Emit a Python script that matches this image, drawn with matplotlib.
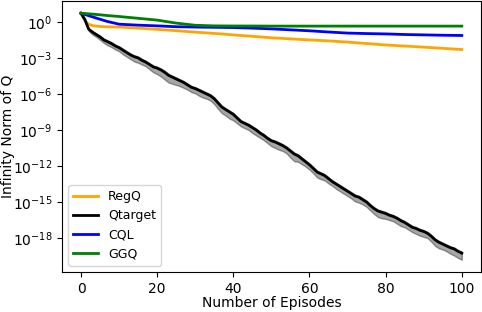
import numpy as np
import matplotlib
matplotlib.use("Agg")
import matplotlib.pyplot as plt

# episodes for the smooth curves (sparse) and for Qtarget (every episode)
ep_sparse = [0, 1, 2, 3, 4, 5, 7, 10, 15, 20, 25, 30, 35, 40, 45, 50, 55, 60, 65, 70, 75, 80, 85, 90, 95, 100]
ep_full = list(range(101))

# log10 of infinity norm
regq_log = [0.72, 0.1, -0.2, -0.3, -0.35, -0.38, -0.41, -0.43, -0.52, -0.62, -0.73, -0.85, -0.96, -1.08,
            -1.2, -1.32, -1.41, -1.5, -1.58, -1.68, -1.8, -1.92, -2.01, -2.1, -2.2, -2.3]
cql_log = [0.72, 0.62, 0.52, 0.42, 0.32, 0.22, 0.03, -0.19, -0.27, -0.33, -0.4, -0.43, -0.45, -0.47,
           -0.52, -0.58, -0.66, -0.74, -0.84, -0.93, -0.97, -1.0, -1.05, -1.08, -1.11, -1.13]
ggq_log = [0.72, 0.7, 0.67, 0.65, 0.62, 0.59, 0.53, 0.45, 0.3, 0.15, -0.1, -0.28, -0.33, -0.34,
           -0.34, -0.35, -0.35, -0.35, -0.35, -0.35, -0.35, -0.35, -0.35, -0.35, -0.35, -0.35]

qt_log = [0.72, 0.2, -0.6, -0.85, -1.05, -1.25, -1.5, -1.65, -1.8, -2.0,
          -2.15, -2.35, -2.55, -2.75, -2.9, -3.0, -3.2, -3.35, -3.55, -3.75,
          -3.85, -4.0, -4.2, -4.45, -4.6, -4.75, -4.9, -5.05, -5.25, -5.45,
          -5.55, -5.7, -5.85, -6.0, -6.15, -6.4, -6.75, -7.1, -7.3, -7.5,
          -7.7, -8.0, -8.3, -8.45, -8.6, -8.8, -9.0, -9.25, -9.45, -9.7,
          -9.9, -10.0, -10.15, -10.3, -10.5, -10.75, -11.0, -11.15, -11.4, -11.65,
          -11.9, -12.2, -12.5, -12.65, -12.8, -13.05, -13.3, -13.5, -13.7, -13.9,
          -14.1, -14.3, -14.5, -14.6, -14.8, -15.0, -15.3, -15.55, -15.75, -15.85,
          -15.95, -16.1, -16.2, -16.35, -16.55, -16.7, -16.9, -17.1, -17.2, -17.35,
          -17.45, -17.6, -17.85, -18.15, -18.35, -18.5, -18.65, -18.8, -18.9, -19.1,
          -19.25]
# spread of the shaded band below / above the Qtarget mean (decades)
qt_below = [0.0, 0.1, 0.15, 0.2, 0.2, 0.25, 0.25, 0.3, 0.3, 0.3,
            0.3, 0.35, 0.35, 0.35, 0.4, 0.4, 0.35, 0.35, 0.4, 0.45,
            0.5, 0.55, 0.6, 0.6, 0.55, 0.5, 0.45, 0.45, 0.4, 0.4,
            0.4, 0.45, 0.45, 0.4, 0.4, 0.45, 0.5, 0.5, 0.5, 0.55,
            0.5, 0.45, 0.4, 0.4, 0.4, 0.45, 0.45, 0.4, 0.4, 0.4,
            0.45, 0.5, 0.5, 0.45, 0.45, 0.55, 0.6, 0.5, 0.45, 0.4,
            0.4, 0.4, 0.45, 0.45, 0.4, 0.4, 0.35, 0.4, 0.4, 0.4,
            0.4, 0.4, 0.45, 0.45, 0.4, 0.4, 0.4, 0.45, 0.5, 0.5,
            0.45, 0.4, 0.4, 0.45, 0.45, 0.4, 0.4, 0.4, 0.45, 0.45,
            0.45, 0.4, 0.45, 0.5, 0.5, 0.45, 0.45, 0.5, 0.55, 0.55,
            0.55]
qt_above = [0.0, 0.05, 0.05, 0.08, 0.08, 0.1, 0.1, 0.1, 0.1, 0.1] + [0.12] * 91

qt = 10 ** np.array(qt_log)
qt_lo = 10 ** (np.array(qt_log) - np.array(qt_below))
qt_hi = 10 ** (np.array(qt_log) + np.array(qt_above))

plt.rcParams['font.size'] = 10

fig = plt.figure(figsize=(4.82, 3.12), dpi=100)
ax = fig.add_axes([0.1286, 0.128, 0.869, 0.869])

ax.plot(ep_sparse, 10 ** np.array(regq_log), color='orange', linewidth=2, label='RegQ')
ax.fill_between(ep_full, qt_lo, qt_hi, color='black', alpha=0.35)
ax.plot(ep_full, qt, color='black', linewidth=2, label='Qtarget')
ax.plot(ep_sparse, 10 ** np.array(cql_log), color='blue', linewidth=2, label='CQL')
ax.plot(ep_sparse, 10 ** np.array(ggq_log), color='green', linewidth=2, label='GGQ')

ax.set_yscale('log')
ax.set_yticks([1e0, 1e-3, 1e-6, 1e-9, 1e-12, 1e-15, 1e-18])
ax.minorticks_off()
ax.set_xticks([0, 20, 40, 60, 80, 100])
ax.set_xlabel('Number of Episodes')
ax.xaxis.set_label_coords(0.5, -0.09)
ax.set_ylabel('Infinity Norm of Q')
ax.yaxis.set_label_coords(-0.112, 0.5)
ax.legend(loc='lower left', fontsize=9)

fig.savefig('out.png', dpi=100)
